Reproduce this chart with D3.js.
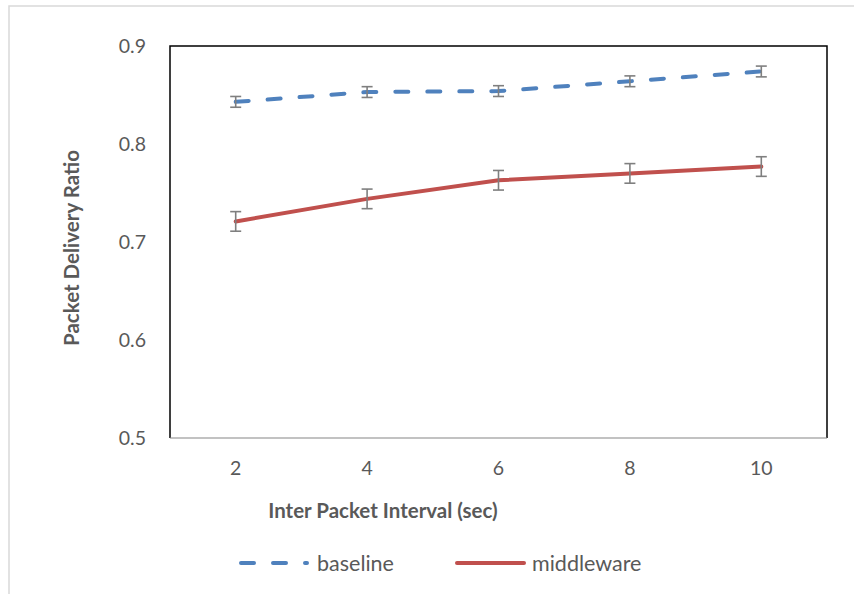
<!DOCTYPE html>
<html>
<head>
<meta charset="utf-8">
<script src="https://cdn.jsdelivr.net/npm/d3@7"></script>
<style>
  body { margin: 0; background: #fff; }
  svg { display: block; }
  text { font-family: Lato, "Open Sans", sans-serif; fill: #595959; }
</style>
</head>
<body>
<svg width="854" height="594"></svg>
<script>
(function() {
    // data
    var intervals = ['2', '4', '6', '8', '10'];
    var baseline = [0.843, 0.853, 0.854, 0.864, 0.874];
    var baselineErr = [0.0055, 0.0055, 0.0055, 0.0055, 0.0055];
    var middleware = [0.721, 0.744, 0.763, 0.770, 0.777];
    var middlewareErr = [0.010, 0.010, 0.010, 0.010, 0.010];
    var yTicks = [0.5, 0.6, 0.7, 0.8, 0.9];

    var series = [
        { name: 'baseline', values: baseline, err: baselineErr, color: '#4f81bd', dash: '13,19' },
        { name: 'middleware', values: middleware, err: middlewareErr, color: '#c0504d', dash: null }
    ];

    var svg = d3.select('svg');

    // outer chart frame (only top and left visible)
    svg.append('rect')
        .attr('x', 9).attr('y', 6)
        .attr('width', 900).attr('height', 700)
        .attr('fill', 'none')
        .attr('stroke', '#d9d9d9')
        .attr('stroke-width', 1.5);

    var left = 170, top = 46, right = 827, bottom = 438;

    var x = d3.scaleBand().domain(intervals).range([left, right]);
    var y = d3.scaleLinear().domain([0.5, 0.9]).range([bottom, top]);

    // plot frame
    svg.append('path')
        .attr('d', 'M' + left + ',' + bottom + 'V' + top + 'H' + right + 'V' + bottom)
        .attr('fill', 'none')
        .attr('stroke', '#000')
        .attr('stroke-width', 1.5);
    svg.append('line')
        .attr('x1', left).attr('x2', right)
        .attr('y1', bottom).attr('y2', bottom)
        .attr('stroke', '#868686')
        .attr('stroke-width', 1.2);

    // y tick labels
    svg.append('g').selectAll('text')
        .data(yTicks)
        .enter()
        .append('text')
        .attr('x', 146)
        .attr('y', function(d) { return y(d); })
        .attr('dy', '0.35em')
        .attr('text-anchor', 'end')
        .style('font-size', '19.5px')
        .text(function(d) { return d3.format('.1f')(d); });

    // x tick labels
    svg.append('g').selectAll('text')
        .data(intervals)
        .enter()
        .append('text')
        .attr('x', function(d) { return x(d) + x.bandwidth() / 2; })
        .attr('y', 468)
        .attr('dy', '0.35em')
        .attr('text-anchor', 'middle')
        .style('font-size', '19.5px')
        .text(function(d) { return d; });

    // axis titles
    svg.append('text')
        .attr('x', 383).attr('y', 511)
        .attr('dy', '0.35em')
        .attr('text-anchor', 'middle')
        .style('font-size', '20.5px')
        .style('font-weight', 'bold')
        .text('Inter Packet Interval (sec)');

    svg.append('text')
        .attr('transform', 'translate(72,248) rotate(-90)')
        .attr('dy', '0.35em')
        .attr('text-anchor', 'middle')
        .style('font-size', '20.5px')
        .style('font-weight', 'bold')
        .text('Packet Delivery Ratio');

    var cx = function(i) { return x(intervals[i]) + x.bandwidth() / 2; };

    var line = d3.line()
        .x(function(d, i) { return cx(i); })
        .y(function(d) { return y(d); });

    series.forEach(function(s) {
        svg.append('path')
            .datum(s.values)
            .attr('d', line)
            .attr('fill', 'none')
            .attr('stroke', s.color)
            .attr('stroke-width', 4)
            .attr('stroke-linecap', 'round')
            .attr('stroke-dasharray', s.dash);
    });

    // error bars
    series.forEach(function(s) {
        var g = svg.append('g')
            .attr('stroke', '#7f7f7f')
            .attr('stroke-width', 1.6)
            .attr('fill', 'none');
        var bars = g.selectAll('g').data(s.values).enter().append('g');
        bars.append('line')
            .attr('x1', function(d, i) { return cx(i); })
            .attr('x2', function(d, i) { return cx(i); })
            .attr('y1', function(d, i) { return y(d + s.err[i]); })
            .attr('y2', function(d, i) { return y(d - s.err[i]); });
        bars.append('line')
            .attr('x1', function(d, i) { return cx(i) - 5.5; })
            .attr('x2', function(d, i) { return cx(i) + 5.5; })
            .attr('y1', function(d, i) { return y(d + s.err[i]); })
            .attr('y2', function(d, i) { return y(d + s.err[i]); });
        bars.append('line')
            .attr('x1', function(d, i) { return cx(i) - 5.5; })
            .attr('x2', function(d, i) { return cx(i) + 5.5; })
            .attr('y1', function(d, i) { return y(d - s.err[i]); })
            .attr('y2', function(d, i) { return y(d - s.err[i]); });
    });

    // legend
    var legendY = 563;
    var legendX = [241, 457];
    var legendLen = [66, 67];
    var legendText = [317, 532];
    series.forEach(function(s, i) {
        svg.append('line')
            .attr('x1', legendX[i]).attr('x2', legendX[i] + legendLen[i])
            .attr('y1', legendY).attr('y2', legendY)
            .attr('stroke', s.color)
            .attr('stroke-width', 4)
            .attr('stroke-linecap', 'round')
            .attr('stroke-dasharray', s.dash);
        svg.append('text')
            .attr('x', legendText[i])
            .attr('y', legendY)
            .attr('dy', '0.35em')
            .style('font-size', '21.5px')
            .text(s.name);
    });
})();
</script>
</body>
</html>
